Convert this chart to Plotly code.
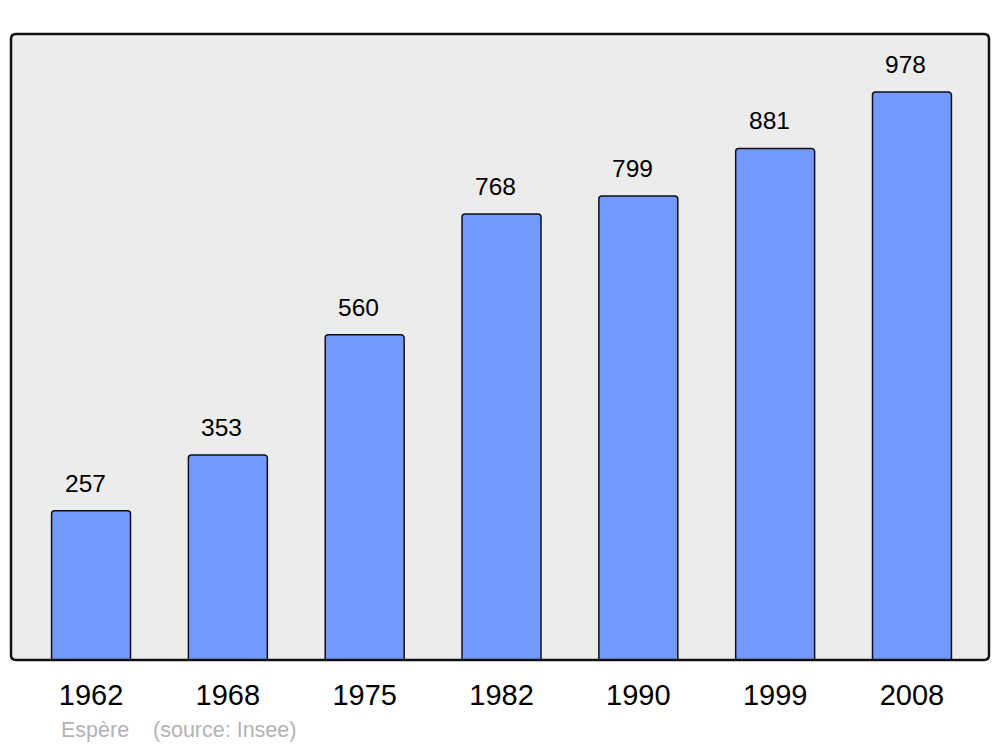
import plotly.graph_objects as go

years = ["1962", "1968", "1975", "1982", "1990", "1999", "2008"]
population = [257, 353, 560, 768, 799, 881, 978]
caption = "Espère    (source: Insee)"

W, H = 1000, 747
L, R, T, B = 11, 11, 34, 87
pw, ph = W - L - R, H - T - B

fig = go.Figure()
fig.add_trace(go.Bar(
    x=years, y=population,
    width=0.577,
    marker=dict(color="#7399ff", line=dict(color="#111111", width=1.5), cornerradius=3),
    hoverinfo="x+y",
))

# value labels (category axis positions are the serial numbers of the categories)
for i, v in enumerate(population):
    fig.add_annotation(x=i, y=v, xref="x", yref="y", text=str(v), showarrow=False,
                       yanchor="bottom", yshift=12, xshift=-6,
                       font=dict(family="Liberation Sans, Arial, sans-serif", size=24.5, color="#000"))

# rounded frame
r = 5
rx, ry = r / pw, r / ph
path = (f"M {rx},0 L {1-rx},0 Q 1,0 1,{ry} L 1,{1-ry} Q 1,1 {1-rx},1 "
        f"L {rx},1 Q 0,1 0,{1-ry} L 0,{ry} Q 0,0 {rx},0 Z")
fig.add_shape(type="path", xref="paper", yref="paper", path=path,
              line=dict(color="#111111", width=2.5), layer="above")

fig.add_annotation(xref="paper", yref="paper", x=(59 - L) / pw, y=-(730 - 660) / ph,
                   xanchor="left", yanchor="middle", showarrow=False, text=caption,
                   font=dict(family="Liberation Sans, Arial, sans-serif", size=21.5, color="#b3b3b3"))

fig.update_layout(
    width=W, height=H,
    margin=dict(l=L, r=R, t=T, b=B),
    paper_bgcolor="white", plot_bgcolor="#ececec",
    showlegend=False,
    font=dict(family="Liberation Sans, Arial, sans-serif", color="#000"),
    xaxis=dict(type="category", range=[-0.585, 6.563], showgrid=False, zeroline=False,
               showline=False, ticks="outside", ticklen=9, tickcolor="rgba(0,0,0,0)",
               tickfont=dict(size=29, color="#000")),
    yaxis=dict(range=[0, 1078], showgrid=False, zeroline=False, showline=False,
               showticklabels=False),
)

fig.write_html("out.html", config={"displayModeBar": False},
               post_script="document.body.style.margin='0';document.body.style.overflow='hidden';")
